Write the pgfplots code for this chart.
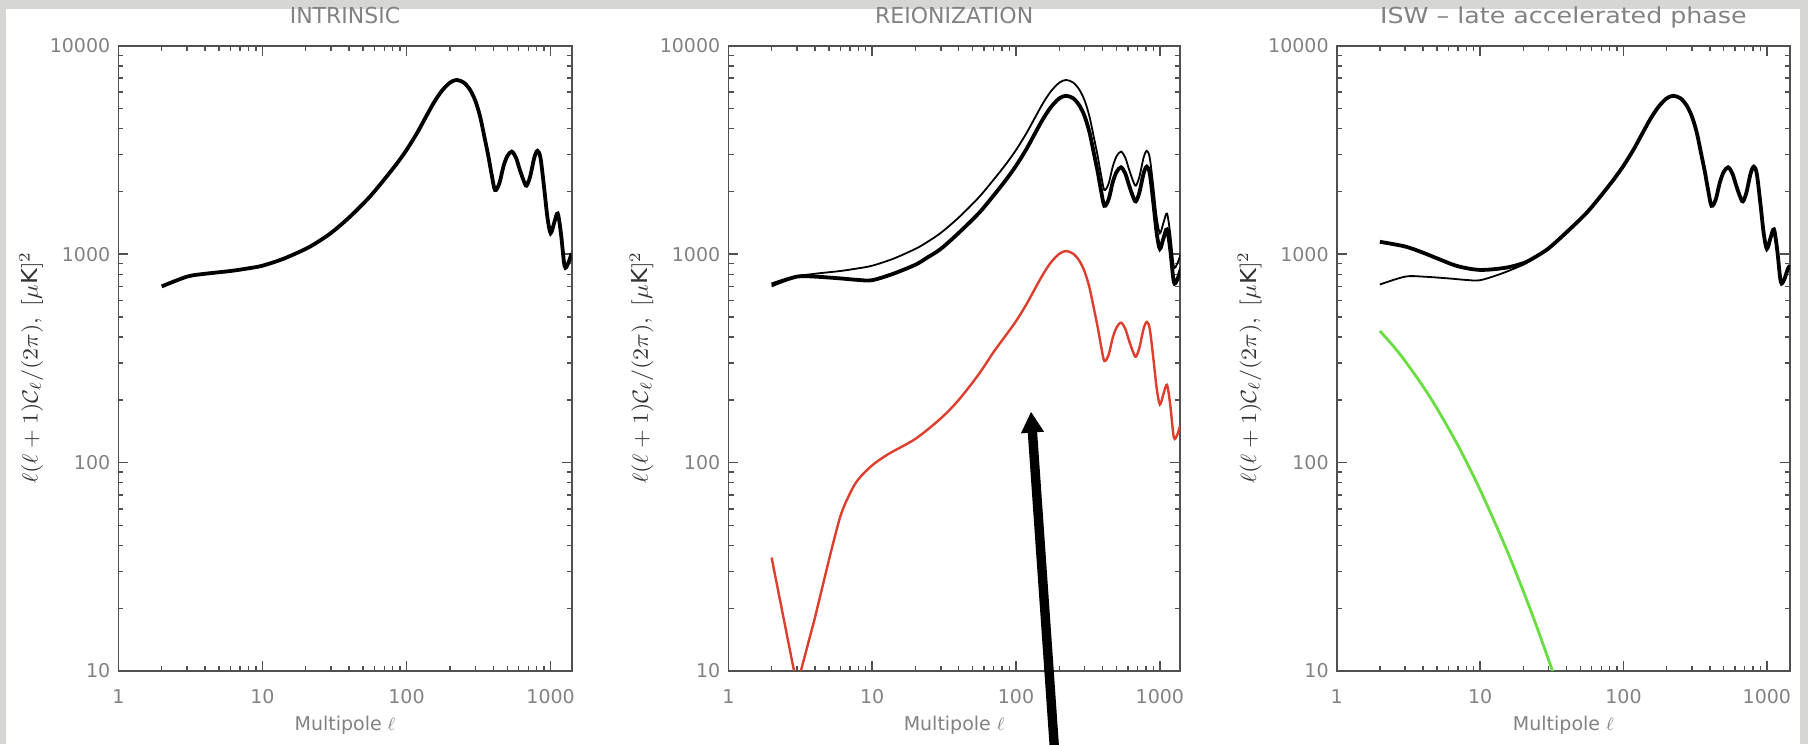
\documentclass[border=0pt]{standalone}
\usepackage{pgfplots}
\pgfplotsset{compat=1.18}
\usepackage{pgfplotstable}
\usepackage{graphicx}
\usepackage{fontspec}
\setmainfont{DejaVu Sans}
\usetikzlibrary{arrows.meta}

\definecolor{marble}{RGB}{214,214,212}
\definecolor{axisgray}{RGB}{80,80,80}
\definecolor{labelgray}{RGB}{130,130,130}
\definecolor{reioncol}{RGB}{222,62,45}
\definecolor{iswcol}{RGB}{105,222,65}

% intrinsic temperature spectrum l(l+1)C_l/2pi in muK^2
\pgfplotstableread{
l D
2 700
3 780
4 805
6 830
8 855
10 880
14 950
20 1060
24 1140
30 1265
40 1500
55 1870
70 2280
85 2700
100 3160
118 3800
135 4500
154 5300
175 6050
200 6650
223 6850
250 6650
276 6140
300 5450
324 4570
350 3550
370 2940
390 2400
411 2030
440 2180
470 2630
500 2950
537 3105
575 2900
610 2550
650 2250
680 2130
720 2350
770 2900
810 3130
850 2900
900 2100
950 1500
1000 1260
1060 1420
1120 1565
1180 1250
1250 875
1320 900
1400 1010
}\intrinsic

% spectrum after reionization
\pgfplotstableread{
l D
2 715
3 780
4 780
6 765
8 752
10 750
14 805
20 890
24 960
30 1060
40 1265
55 1570
70 1915
85 2270
100 2655
118 3190
135 3780
154 4450
175 5080
200 5590
223 5750
250 5590
276 5160
300 4580
324 3840
350 2980
370 2470
390 2015
411 1705
440 1830
470 2210
500 2480
537 2610
575 2435
610 2140
650 1890
680 1790
720 1975
770 2435
810 2630
850 2435
900 1765
950 1260
1000 1060
1060 1195
1120 1315
1180 1050
1250 735
1320 755
1400 850
1450 880
}\reion

% reionization contribution (low multipoles, sharp dip)
\pgfplotstableread{
l D
2 35
3 8.5
4 18
5 34
}\reionlow

\pgfplotstableread{
l D
5 34
6 55
7 71
8 83
10 97
13 110
20 130
30 163
40 200
55 265
70 340
85 408
100 477
118 574
135 680
154 800
175 914
200 1004
223 1035
250 1004
276 927
300 823
324 690
350 536
370 444
390 362
411 307
440 329
470 397
500 445
537 469
575 438
610 385
650 340
680 322
720 355
770 438
810 473
850 438
900 317
950 227
1000 190
1060 214
1120 236
1180 189
1250 132
1320 136
1380 150
}\reioncontrib

% total with the late ISW term
\pgfplotstableread{
l D
2 1146
3 1088
4 1016
5 955
7 875
10 840
15 860
20 905
24 965
30 1065
40 1272
55 1572
70 1915
85 2270
100 2655
118 3190
135 3780
154 4450
175 5080
200 5590
223 5750
250 5590
276 5160
300 4580
324 3840
350 2980
370 2470
390 2015
411 1705
440 1830
470 2210
500 2480
537 2610
575 2435
610 2140
650 1890
680 1790
720 1975
770 2435
810 2630
850 2435
900 1765
950 1260
1000 1060
1060 1195
1120 1315
1180 1050
1250 735
1320 755
1400 850
1450 880
}\iswtotal

% late ISW contribution
\pgfplotstableread{
l D
2 428
2.5 360
3 307
4 232
5 182
7 121
10 74
15 39.5
20 24.2
25 16.1
32 10
36 7.9
}\iswcontrib

\pgfplotsset{
  every axis/.append style={
    scale only axis,
    height=312.65pt,
    xmin=1, ymin=10, ymax=10000,
    xtick={1,10,100,1000}, xticklabels={1,10,100,1000},
    ytick={10,100,1000,10000}, yticklabels={10,100,1000,10000},
    tick align=inside,
    axis line style={axisgray, line width=0.8pt},
    tick style={axisgray, line width=0.7pt},
    major tick length=5pt, minor tick length=2.6pt,
    tick label style={font=\fontsize{9.5}{11}\selectfont, text=labelgray},
    xticklabel style={anchor=center, yshift=-13pt},
    yticklabel style={anchor=east, xshift=-0.5pt},
    title style={font=\fontsize{11}{13}\selectfont, text=labelgray,
      at={(axis description cs:0.5,1.017)}, anchor=base},
    xlabel style={font=\fontsize{9.5}{11}\selectfont, text=labelgray,
      at={(axis description cs:0.5,-0.0864)}, anchor=center},
    ylabel style={font=\fontsize{11}{13}\selectfont, text=black!80,
      at={(axis description cs:-0.192,0.485)}, anchor=center},
  },
}

\begin{document}
\begin{tikzpicture}
\path[use as bounding box] (0,0) rectangle (904pt,372pt);
\fill[marble] (0,0) rectangle (904pt,372pt);
\fill[white] (3pt,0) rectangle (900pt,367.5pt);

\begin{loglogaxis}[at={(59.15pt,36.5pt)}, anchor=south west,
  width=226.7pt, xmax=1400, title={INTRINSIC},
  xlabel={Multipole $\ell$},
  ylabel={\scalebox{1.1}[1]{$\ell(\ell+1)\mathcal{C}_\ell/(2\pi),\ [\mu\mathrm{K}]^2$}}]
  \addplot[black, line width=1.9pt, smooth] table {\intrinsic};
\end{loglogaxis}

\begin{loglogaxis}[at={(364.15pt,36.5pt)}, anchor=south west,
  width=225.85pt, xmax=1380, title={REIONIZATION},
  xlabel={Multipole $\ell$},
  ylabel={\scalebox{1.1}[1]{$\ell(\ell+1)\mathcal{C}_\ell/(2\pi),\ [\mu\mathrm{K}]^2$}}]
  \addplot[black, line width=0.9pt, smooth] table {\intrinsic};
  \addplot[black, line width=1.9pt, smooth] table {\reion};
  \addplot[reioncol, line width=1.2pt] table {\reionlow};
  \addplot[reioncol, line width=1.2pt, smooth] table {\reioncontrib};
\end{loglogaxis}

\begin{loglogaxis}[at={(668.35pt,36.5pt)}, anchor=south west,
  width=226.65pt, xmax=1450,
  title={\scalebox{1.15}[1]{ISW -- late accelerated phase}},
  xlabel={Multipole $\ell$},
  ylabel={\scalebox{1.1}[1]{$\ell(\ell+1)\mathcal{C}_\ell/(2\pi),\ [\mu\mathrm{K}]^2$}}]
  \addplot[black, line width=0.9pt, smooth] table {\reion};
  \addplot[black, line width=1.9pt, smooth] table {\iswtotal};
  \addplot[iswcol, line width=1.4pt, smooth] table {\iswcontrib};
\end{loglogaxis}

% pointer into the reionization panel
\draw[line width=4.7pt, -{Triangle[width=10.8pt,length=10.5pt]}]
  (527.2pt,-2pt) -- (515.5pt,166.2pt);
\end{tikzpicture}
\end{document}
